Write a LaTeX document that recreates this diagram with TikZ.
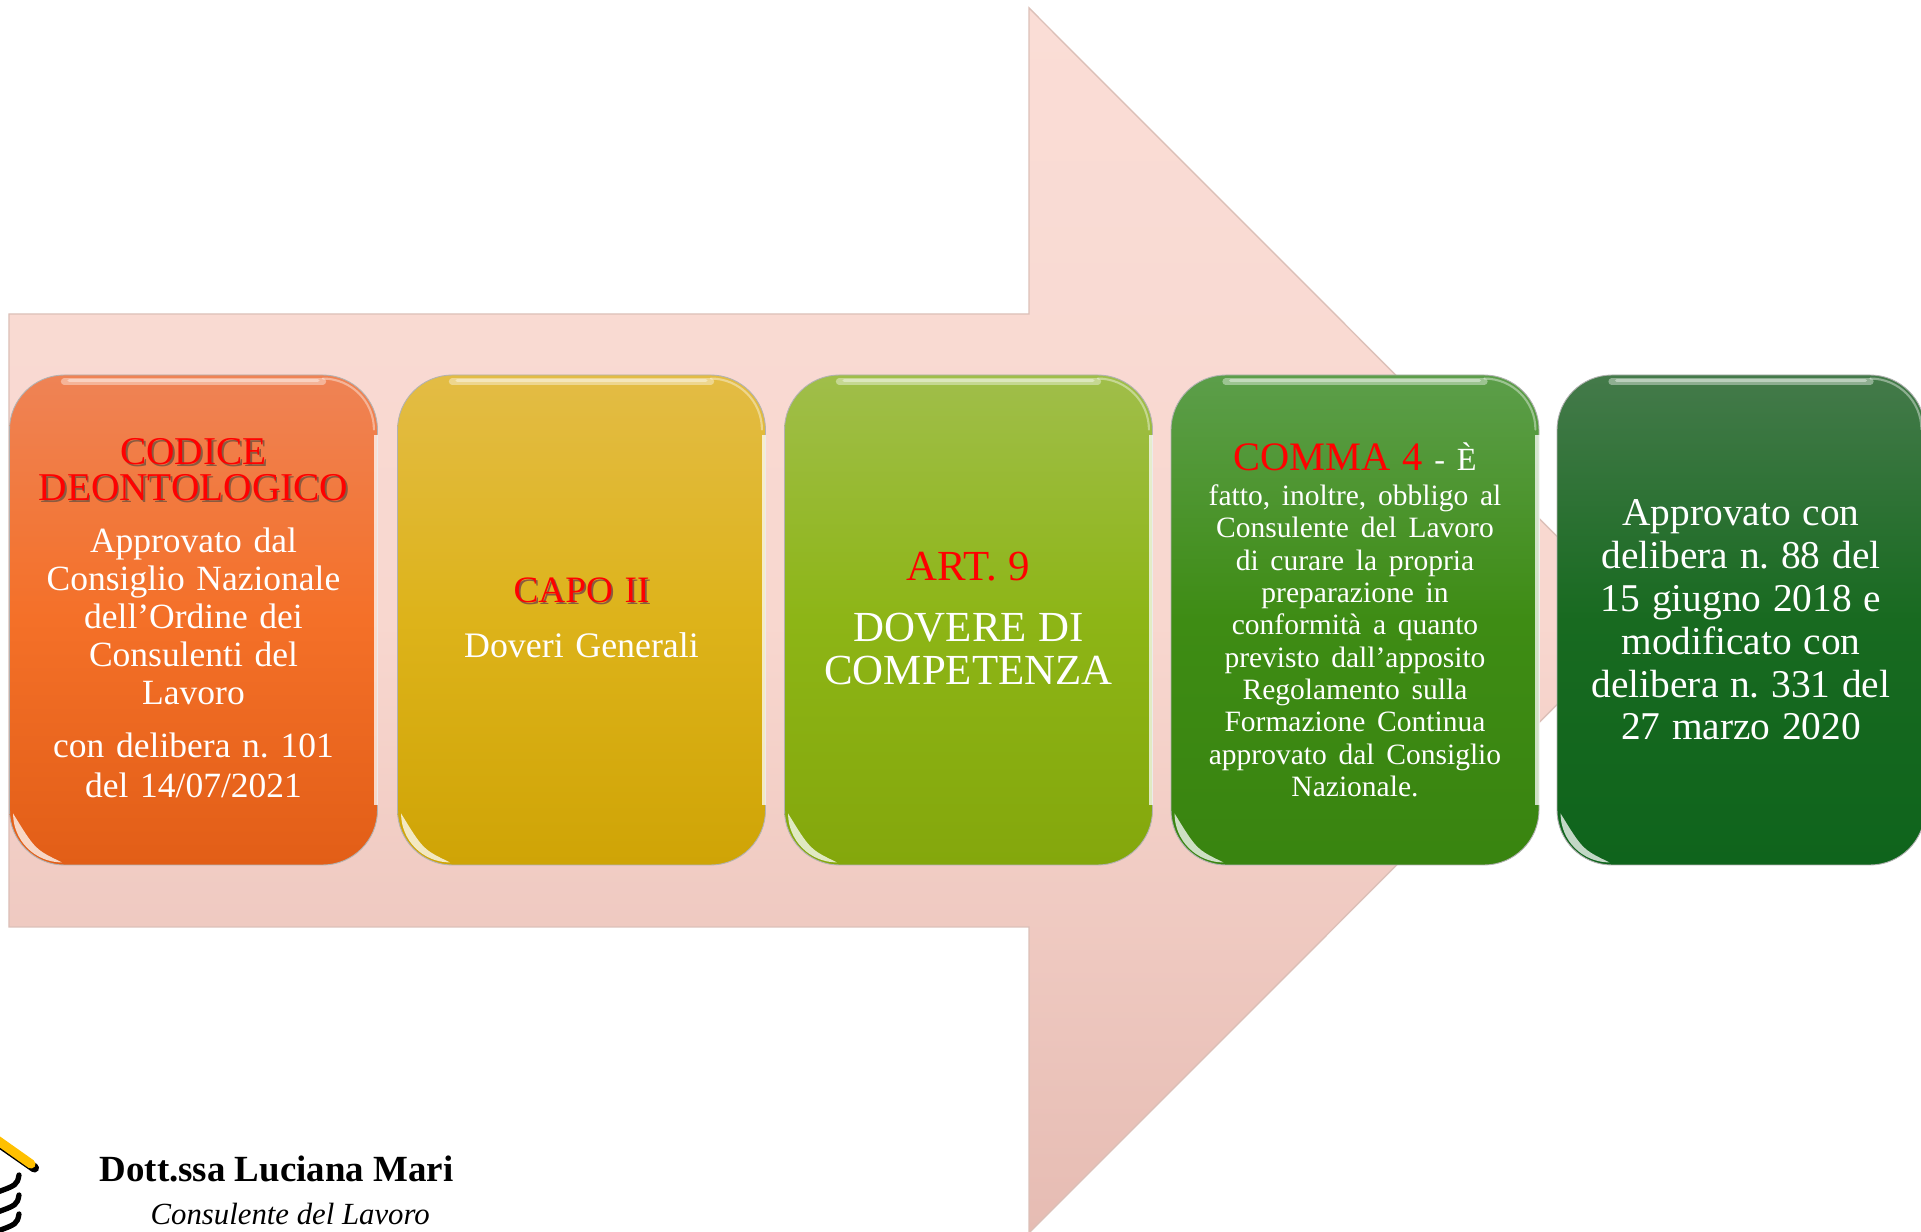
\documentclass[tikz,border=0pt]{standalone}
\usepackage{fontspec}
\setmainfont{Liberation Serif}
\frenchspacing
\definecolor{shadowbrown}{HTML}{8A5A40}
\definecolor{arrowtop}{HTML}{FADDD6}
\definecolor{arrowmid}{HTML}{F8D7CF}
\definecolor{arrowlow}{HTML}{E6BCB3}
\definecolor{edgegrey}{HTML}{DCC0B8}
\definecolor{logoyellow}{HTML}{FFC000}
\newcommand{\shadowred}[1]{\makebox[0pt][l]{\hspace{0.5pt}\raisebox{-0.5pt}{\textcolor{shadowbrown}{#1}}}\textcolor{red}{#1}}
\newcommand{\txtsize}[2]{\fontsize{#1}{#2}\selectfont}
\tikzset{
  panel/.style={rounded corners=0.55cm, minimum width=3.68cm, minimum height=4.9cm,
    draw=black!30, line width=0.25pt, inner sep=0pt, text=white, align=center, text width=3.6cm},
  gloss/.style={white, line cap=round, opacity=0.4}
}
\begin{document}
\begin{tikzpicture}
\clip (0,0) rectangle (19.21,12.32);
% big arrow
\path[draw=edgegrey, line width=0.4pt, top color=arrowtop, bottom color=arrowlow, middle color=arrowmid]
  (0.09,9.18) -- (10.29,9.18) -- (10.29,12.24) -- (16.41,6.115) -- (10.29,-0.01) -- (10.29,3.05) -- (0.09,3.05) -- cycle;
% panels
\node[panel, top color={rgb,255:red,239;green,131;blue,85}, bottom color={rgb,255:red,226;green,94;blue,23}, middle color={rgb,255:red,244;green,112;blue,40}] (1) at (1.935,6.12) {
  \txtsize{11.2}{10.4}\shadowred{CODICE}\\ \shadowred{DEONTOLOGICO}\par\vspace{4pt}
  \txtsize{10.1}{10.8}Approvato dal\\ Consiglio Nazionale\\ dell'Ordine dei\\ Consulenti del\\ Lavoro\par\vspace{3.7pt}
  \txtsize{10.1}{11.4}con delibera n. 101\\ del 14/07/2021\par\vspace{1pt}};
\node[panel, top color={rgb,255:red,227;green,188;blue,69}, bottom color={rgb,255:red,207;green,164;blue,6}, middle color={rgb,255:red,221;green,179;blue,26}] (2) at (5.815,6.12) {
  \txtsize{10.6}{12}\shadowred{CAPO II}\par\vspace{3.7pt}
  \txtsize{10.2}{12}Doveri Generali\par\vspace{1.2pt}};
\node[panel, top color={rgb,255:red,160;green,190;blue,74}, bottom color={rgb,255:red,132;green,167;blue,12}, middle color={rgb,255:red,141;green,181;blue,22}] (3) at (9.685,6.12) {
  \txtsize{12.2}{13}\textcolor{red}{ART. 9}\par\vspace{5pt}
  \txtsize{12.2}{12.3}DOVERE DI\\ COMPETENZA\par\vspace{0.6pt}};
\node[panel, top color={rgb,255:red,92;green,158;blue,74}, bottom color={rgb,255:red,57;green,132;blue,16}, middle color={rgb,255:red,62;green,140;blue,20}] (4) at (13.55,6.12) {
  \txtsize{11.5}{10}\textcolor{red}{COMMA 4} {\txtsize{9.2}{10}- È}\par\vspace{0.6pt}
  \txtsize{8.4}{9.2}fatto, inoltre, obbligo al\\ Consulente del Lavoro\\ di curare la propria\\ preparazione in\\ conformità a quanto\\ previsto dall'apposito\\ Regolamento sulla\\ Formazione Continua\\ approvato dal Consiglio\\ Nazionale.\par};
\node[panel, top color={rgb,255:red,68;green,122;blue,74}, bottom color={rgb,255:red,15;green,100;blue,28}, middle color={rgb,255:red,24;green,106;blue,32}] (5) at (17.41,6.12) {
  \txtsize{11.2}{12.2}Approvato con\\ delibera n. 88 del\\ 15 giugno 2018 e\\ modificato con\\ delibera n. 331 del\\ 27 marzo 2020\par};
% highlights
\foreach \n in {1,...,5} {
  \draw[gloss, line width=1.8pt] ([shift={(0.55,-0.07)}]\n.north west) -- ([shift={(-0.55,-0.07)}]\n.north east);
  \draw[gloss, line width=0.9pt] ([shift={(0.6,-0.06)}]\n.north west) -- ([shift={(-0.6,-0.06)}]\n.north east);
  \draw[gloss, line width=0.6pt] ([shift={(-0.55,-0.04)}]\n.north east) arc (90:0:0.51);
  \draw[white, opacity=0.75, line width=1.2pt] ([shift={(-0.02,-0.6)}]\n.north east) -- ([shift={(-0.02,0.6)}]\n.south east);
  \fill[white, opacity=0.75] ([shift={(0.04,0.52)}]\n.south west) arc (180:270:0.49) .. controls ([shift={(0.26,0.16)}]\n.south west) .. cycle;
}
% logo corner
\draw[black, line width=2.6pt, line cap=round] (-0.1,0.95) -- (0.345,0.64);
\draw[logoyellow, line width=2.6pt, line cap=round] (-0.1,0.97) -- (0.31,0.68);
\foreach \y in {0.39,0.19,0} {
  \draw[black, line width=1.5pt, line cap=round] (-0.05,\y) .. controls (0.17,\y+0.08) .. (0.19,\y+0.18);
}
\node[font=\bfseries\txtsize{10.5}{12}, anchor=west, inner sep=0pt] (name) at (0.99,0.63) {Dott.ssa Luciana Mari};
\node[font=\itshape\txtsize{8.75}{11}, anchor=west, inner sep=0pt] (role) at (1.5,0.18) {Consulente del Lavoro};
\end{tikzpicture}
\end{document}
